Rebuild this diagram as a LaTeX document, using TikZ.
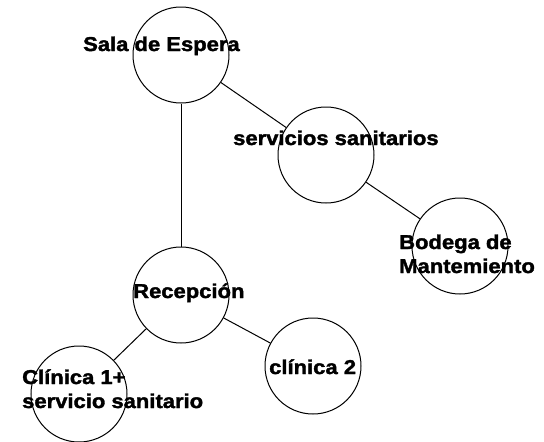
\documentclass[tikz,border=0pt]{standalone}
\usepackage{fontspec}
\newfontfamily\roomfont{Liberation Sans Bold}[FakeStretch=1.1,FakeBold=1.8]
\usetikzlibrary{positioning}

\begin{document}
\begin{tikzpicture}[x=1pt,y=-1pt,
    room/.style={draw, circle, line width=1pt, minimum size=96pt, inner sep=0pt},
    roomtext/.style={anchor=base west, inner sep=0pt, align=left,
        font=\roomfont\fontsize{20}{24}\selectfont}]

    \useasboundingbox (0,0) rectangle (544,442);

    % rooms
    \node[room] (sala) at (181,55) {};
    \node[room] (serv) at (326,155) {};
    \node[room] (bodega) at (460,246) {};
    \node[room] (recep) at (181,295) {};
    \node[room] (clin2) at (313,366) {};
    \node[room] (clin1) at (79,394) {};

    % links
    \draw[line width=1pt] (sala) -- (serv);
    \draw[line width=1pt] (serv) -- (bodega);
    \draw[line width=1pt] (sala) -- (recep);
    \draw[line width=1pt] (recep) -- (clin2);
    \draw[line width=1pt] (recep) -- (clin1);

    % names (base = last line)
    \node[roomtext] (salaname) at (83,51) {Sala de Espera};
    \node[roomtext] (servname) at (233,145) {servicios sanitarios};
    \node[roomtext] (bodeganame) at (399,273) {Bodega de\\Mantemiento};
    \node[roomtext] (recepname) at (133,298) {Recepción};
    \node[roomtext] (clin2name) at (269,374) {clínica 2};
    \node[roomtext] (clin1name) at (22,408) {Clínica 1+\\servicio sanitario};

\end{tikzpicture}
\end{document}
